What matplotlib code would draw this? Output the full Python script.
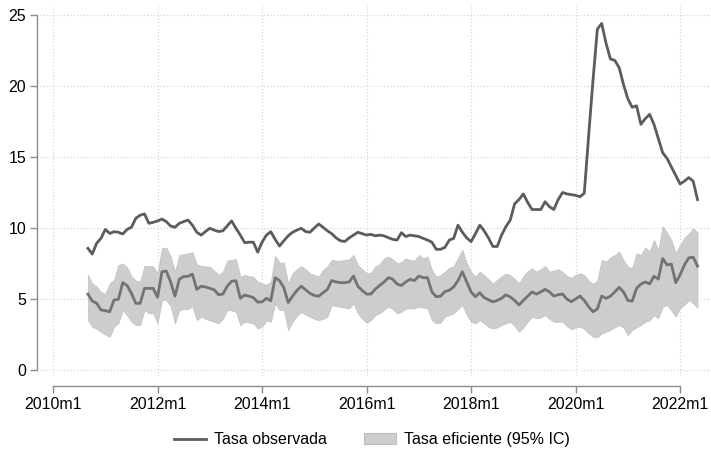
import numpy as np
import matplotlib
matplotlib.use('Agg')
import matplotlib.pyplot as plt
from matplotlib.lines import Line2D
from matplotlib.patches import Patch

plt.rcParams['font.family'] = ['Liberation Sans', 'DejaVu Sans']

# meses desde 2010m1 (primer dato: 2010m9)
primer_mes = 8

tasa_obs = [8.57, 8.17, 8.92, 9.27, 9.9, 9.62, 9.74, 9.7, 9.58, 9.9,
            10.05, 10.68, 10.9, 10.99, 10.33, 10.4, 10.5, 10.63, 10.45, 10.14,
            10.05, 10.33, 10.45, 10.56, 10.2, 9.7, 9.5, 9.75, 9.98, 9.85,
            9.75, 9.8, 10.15, 10.5, 9.98, 9.5, 8.97, 9.0, 9.0, 8.3,
            9.0, 9.5, 9.74, 9.2, 8.73, 9.1, 9.45, 9.7, 9.85, 9.98,
            9.75, 9.7, 10.0, 10.28, 10.05, 9.8, 9.6, 9.3, 9.1, 9.05,
            9.3, 9.5, 9.7, 9.6, 9.5, 9.55, 9.45, 9.5, 9.45, 9.32,
            9.2, 9.15, 9.67, 9.4, 9.5, 9.45, 9.4, 9.27, 9.15, 9.0,
            8.5, 8.5, 8.64, 9.15, 9.27, 10.2, 9.7, 9.3, 9.04, 9.6,
            10.2, 9.8, 9.3, 8.7, 8.7, 9.5, 10.1, 10.56, 11.7, 12.0,
            12.4, 11.8, 11.3, 11.3, 11.3, 11.85, 11.5, 11.3, 12.0, 12.5,
            12.4, 12.35, 12.3, 12.2, 12.45, 16.5, 20.4, 24.0, 24.4, 23.0,
            21.9, 21.8, 21.3, 20.1, 19.1, 18.5, 18.6, 17.3, 17.7, 18.0,
            17.3, 16.3, 15.3, 14.9, 14.3, 13.7, 13.1, 13.3, 13.55, 13.3,
            12.0]

tasa_ef = [5.35, 4.86, 4.7, 4.23, 4.18, 4.1, 4.93, 4.98, 6.15, 5.95,
           5.4, 4.7, 4.7, 5.75, 5.75, 5.75, 5.12, 6.92, 6.97, 6.2,
           5.2, 6.4, 6.58, 6.6, 6.75, 5.68, 5.9, 5.85, 5.75, 5.65,
           5.3, 5.35, 5.9, 6.25, 6.29, 5.05, 5.28, 5.2, 5.1, 4.78,
           4.8, 5.05, 4.88, 6.5, 6.3, 5.8, 4.75, 5.2, 5.6, 5.9,
           5.65, 5.4, 5.25, 5.2, 5.44, 5.68, 6.3, 6.2, 6.15, 6.15,
           6.2, 6.62, 5.9, 5.6, 5.35, 5.35, 5.7, 5.95, 6.2, 6.5,
           6.4, 6.05, 5.95, 6.2, 6.39, 6.3, 6.62, 6.5, 6.5, 5.5,
           5.16, 5.2, 5.52, 5.62, 5.85, 6.3, 6.92, 6.2, 5.5, 5.16,
           5.44, 5.1, 4.95, 4.8, 4.9, 5.05, 5.3, 5.15, 4.9, 4.58,
           4.9, 5.2, 5.5, 5.35, 5.5, 5.68, 5.5, 5.21, 5.3, 5.35,
           5.0, 4.81, 5.0, 5.21, 4.9, 4.46, 4.1, 4.3, 5.21, 5.05,
           5.2, 5.5, 5.82, 5.5, 4.9, 4.85, 5.75, 6.05, 6.2, 6.06,
           6.6, 6.4, 7.85, 7.4, 7.46, 6.15, 6.7, 7.4, 7.9, 7.95,
           7.32]

ic_sup = [6.69, 6.1, 5.87, 5.5, 5.35, 6.1, 6.34, 7.4, 7.5, 7.23,
          6.6, 6.3, 6.22, 7.32, 7.32, 7.3, 6.8, 8.57, 8.62, 8.0,
          6.92, 8.1, 8.15, 8.22, 8.3, 7.46, 7.32, 7.3, 7.27, 7.0,
          6.69, 6.9, 7.7, 7.75, 7.8, 6.57, 6.69, 6.6, 6.57, 6.22,
          6.1, 6.0, 6.2, 8.03, 7.56, 7.56, 6.1, 6.8, 7.1, 7.32,
          7.1, 6.8, 6.7, 6.57, 7.04, 7.3, 7.75, 7.7, 7.7, 7.75,
          7.8, 8.1, 7.39, 7.1, 6.8, 6.85, 7.3, 7.45, 7.86, 7.98,
          7.8, 7.51, 7.6, 7.86, 7.75, 7.7, 8.1, 7.86, 7.98, 7.04,
          6.57, 6.69, 6.92, 7.2, 7.3, 7.9, 8.45, 7.51, 6.9, 6.57,
          6.92, 6.69, 6.4, 6.1, 6.34, 6.6, 6.8, 6.69, 6.4, 6.1,
          6.6, 6.95, 7.16, 6.92, 7.1, 7.32, 6.92, 7.0, 7.1, 6.9,
          6.62, 6.5, 6.7, 6.8, 6.69, 6.3, 6.06, 6.3, 7.75, 7.63,
          7.93, 8.1, 8.33, 7.75, 7.27, 7.16, 8.22, 8.1, 8.64, 8.33,
          9.15, 8.45, 10.14, 9.67, 9.15, 8.22, 8.8, 9.3, 9.6, 9.98,
          9.7]

ic_inf = [3.52, 3.05, 2.9, 2.7, 2.5, 2.35, 3.05, 3.3, 4.23, 3.87,
          3.4, 3.17, 3.17, 4.23, 4.0, 4.0, 3.29, 4.93, 4.93, 4.5,
          3.29, 4.23, 4.3, 4.3, 4.5, 3.52, 3.76, 3.6, 3.5, 3.4,
          3.29, 3.6, 4.23, 4.2, 4.1, 3.17, 3.4, 3.35, 3.29, 2.93,
          3.05, 3.5, 3.4, 4.7, 4.23, 4.23, 2.82, 3.4, 3.8, 4.1,
          3.9, 3.76, 3.6, 3.52, 3.6, 3.76, 4.58, 4.5, 4.46, 4.4,
          4.34, 4.7, 4.0, 3.6, 3.33, 3.52, 3.87, 4.0, 4.23, 4.46,
          4.3, 4.0, 4.1, 4.34, 4.34, 4.34, 4.46, 4.4, 4.34, 3.52,
          3.29, 3.35, 3.76, 3.87, 4.0, 4.3, 4.58, 3.9, 3.4, 3.29,
          3.52, 3.3, 3.05, 2.93, 3.0, 3.17, 3.3, 3.4, 3.1, 2.7,
          3.0, 3.4, 3.76, 3.64, 3.7, 3.87, 3.6, 3.4, 3.4, 3.4,
          3.1, 2.86, 3.0, 3.05, 2.9, 2.6, 2.35, 2.3, 2.58, 2.7,
          2.82, 3.0, 3.17, 3.0, 2.46, 2.82, 3.0, 3.17, 3.4, 3.5,
          3.87, 3.64, 4.46, 4.58, 4.2, 3.76, 4.34, 4.6, 4.93, 4.7,
          4.4]

anios_ticks = [2010, 2012, 2014, 2016, 2018, 2020, 2022]
y_ticks = [0, 5, 10, 15, 20, 25]

x = primer_mes + np.arange(len(tasa_obs))
x_ticks = [(a - 2010) * 12 for a in anios_ticks]
x_labels = [f'{a}m1' for a in anios_ticks]

fig = plt.figure(figsize=(7.11, 4.53), dpi=100)
ax = fig.add_axes([40 / 711, 1 - 376 / 453, 671 / 711, 371 / 453])

ax.fill_between(x, ic_inf, ic_sup, color='#cdcdcd', lw=0.6, edgecolor='#c4c4c4', zorder=2)
ax.plot(x, tasa_ef, color='#737373', lw=2.0, zorder=3)
ax.plot(x, tasa_obs, color='#5c5c5c', lw=2.0, zorder=4)

ax.set_xlim(-3.0, 151.1)
ax.set_ylim(-0.42, 25.7)
ax.set_xticks(x_ticks)
ax.set_xticklabels(x_labels)
ax.set_yticks(y_ticks)

ax.grid(True, color='#d0d0d0', linestyle=(0, (1, 2)), lw=0.8, zorder=0)
for s in ['top', 'right']:
    ax.spines[s].set_visible(False)
ax.spines['left'].set_position(('outward', 2))
ax.spines['left'].set_bounds(0, 25)
ax.spines['bottom'].set_position(('outward', 7))
ax.spines['bottom'].set_bounds(0, 144)
for s in ['left', 'bottom']:
    ax.spines[s].set_color('#8c8c8c')
    ax.spines[s].set_linewidth(1.0)
ax.tick_params(axis='both', colors='#8c8c8c', length=5, width=1.0,
               labelsize=11.5, labelcolor='#000000')
ax.tick_params(axis='x', pad=3)
ax.tick_params(axis='y', pad=3)

handles = [Line2D([0], [0], color='#5c5c5c', lw=2.0),
           Patch(facecolor='#cdcdcd', edgecolor='#bdbdbd', lw=0.8)]
fig.legend(handles, ['Tasa observada', 'Tasa eficiente (95% IC)'],
           loc='center', bbox_to_anchor=(0.523, 0.029), ncol=2, frameon=False,
           fontsize=11.5, handlelength=2.0, handletextpad=0.5, columnspacing=2.3)

fig.savefig('out.png', dpi=100)
